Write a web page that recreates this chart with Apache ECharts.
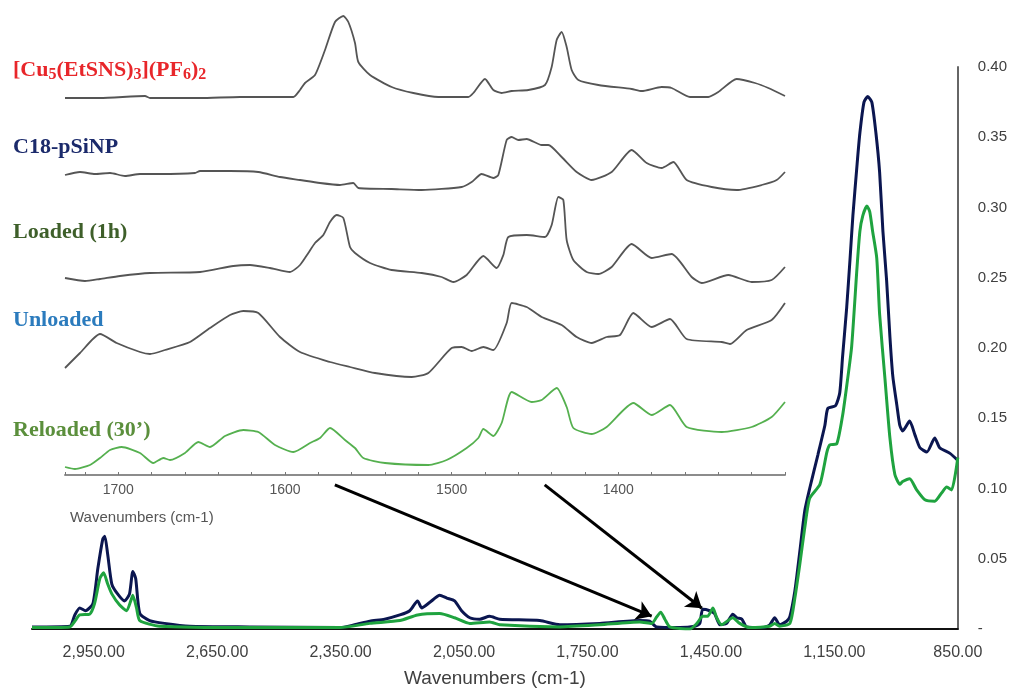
<!DOCTYPE html>
<html>
<head>
<meta charset="utf-8">
<title>FTIR spectra</title>
<script src="https://cdn.jsdelivr.net/npm/echarts@6/dist/echarts.min.js"></script>
<style>
html, body { margin: 0; padding: 0; background: #fff; }
#chart { width: 1010px; height: 693px; }
</style>
</head>
<body>
<div id="chart"></div>
<script>
// main spectrum, [wavenumber, absorbance]
const navyTrace = [
  [3100, 0.0015], [3008, 0.002], [2996, 0.01], [2984, 0.015], [2970, 0.013], [2952, 0.018],
  [2940, 0.043], [2928, 0.064], [2923, 0.066], [2916, 0.053], [2906, 0.032], [2892, 0.025],
  [2875, 0.020], [2863, 0.025], [2855, 0.041], [2848, 0.036], [2838, 0.011], [2814, 0.006],
  [2778, 0.004], [2717, 0.002], [2571, 0.0015], [2352, 0.001], [2316, 0.003], [2279, 0.0055],
  [2243, 0.007], [2206, 0.010], [2182, 0.013], [2163, 0.020], [2153, 0.015], [2133, 0.019],
  [2109, 0.024], [2092, 0.022], [2073, 0.020], [2056, 0.013], [2036, 0.008], [2012, 0.007],
  [1988, 0.009], [1963, 0.007], [1866, 0.006], [1817, 0.003], [1720, 0.004], [1623, 0.006],
  [1599, 0.0055], [1582, 0.0015], [1526, 0.001], [1489, 0.002], [1477, 0.004], [1470, 0.014],
  [1453, 0.013], [1441, 0.011], [1428, 0.003], [1412, 0.004], [1397, 0.0105], [1387, 0.008],
  [1375, 0.007], [1363, 0.0015], [1324, 0.001], [1307, 0.003], [1295, 0.008], [1283, 0.003],
  [1266, 0.0055], [1258, 0.009], [1246, 0.027], [1234, 0.055], [1222, 0.084], [1210, 0.10],
  [1190, 0.124], [1173, 0.145], [1166, 0.157], [1147, 0.159], [1137, 0.168], [1130, 0.194],
  [1120, 0.229], [1112, 0.263], [1105, 0.294], [1095, 0.33], [1088, 0.353], [1078, 0.375],
  [1069, 0.379], [1059, 0.375], [1049, 0.353], [1040, 0.325], [1032, 0.283], [1023, 0.248],
  [1015, 0.208], [1008, 0.18], [998, 0.159], [991, 0.145], [984, 0.141], [967, 0.148],
  [954, 0.138], [942, 0.129], [925, 0.126], [906, 0.136], [894, 0.129], [869, 0.125], [850, 0.120]
];
const greenTrace = [
  [3100, 0.001], [3008, 0.0015], [2996, 0.0055], [2984, 0.010], [2960, 0.0105], [2948, 0.018],
  [2935, 0.036], [2926, 0.040], [2916, 0.032], [2906, 0.025], [2887, 0.017], [2870, 0.013],
  [2860, 0.020], [2855, 0.024], [2846, 0.015], [2838, 0.006], [2790, 0.002], [2571, 0.001],
  [2352, 0.001], [2279, 0.004], [2206, 0.006], [2163, 0.010], [2109, 0.011], [2073, 0.008],
  [2036, 0.004], [1988, 0.005], [1963, 0.003], [1817, 0.0015], [1720, 0.003], [1623, 0.005],
  [1594, 0.004], [1582, 0.0085], [1572, 0.012], [1562, 0.007], [1550, 0.0015], [1501, 0],
  [1484, 0.004], [1470, 0.009], [1458, 0.009], [1445, 0.015], [1436, 0.008], [1424, 0.003],
  [1397, 0.008], [1380, 0.004], [1356, 0.001], [1307, 0.002], [1295, 0.004], [1283, 0.002],
  [1258, 0.004], [1246, 0.022], [1234, 0.046], [1222, 0.072], [1210, 0.093], [1185, 0.103],
  [1168, 0.126], [1161, 0.131], [1144, 0.132], [1130, 0.152], [1120, 0.173], [1108, 0.201],
  [1095, 0.257], [1088, 0.283], [1081, 0.294], [1071, 0.301], [1064, 0.297], [1057, 0.283],
  [1047, 0.264], [1040, 0.224], [1027, 0.178], [1015, 0.136], [1003, 0.110], [991, 0.103],
  [984, 0.105], [967, 0.107], [950, 0.099], [930, 0.092], [906, 0.091], [889, 0.097],
  [877, 0.101], [865, 0.099], [850, 0.122]
];

// inset spectra (stacked, arbitrary units incl. offset)
const cu5Trace = [
  [1732, 37.7], [1711, 37.7], [1684, 37.9], [1681, 37.7], [1651, 37.7], [1627, 37.8], [1595, 37.8],
  [1591, 38.5], [1588, 39.2], [1582, 40.0], [1576, 42.5], [1570, 45.3], [1565, 45.9], [1562, 45.3],
  [1558, 43.2], [1556, 41.3], [1549, 40.0], [1536, 38.8], [1523, 38.2], [1508, 37.8], [1490, 37.8],
  [1487, 38.2], [1480, 39.6], [1475, 38.5], [1470, 38.2], [1464, 38.4], [1454, 38.5], [1444, 39.0],
  [1440, 40.8], [1437, 43.5], [1434, 44.3], [1431, 42.8], [1428, 40.5], [1424, 39.5], [1412, 39.0],
  [1392, 38.6], [1386, 38.4], [1374, 38.8], [1368, 38.7], [1357, 37.8], [1346, 37.8], [1340, 38.3],
  [1329, 39.6], [1318, 39.2], [1310, 38.7], [1300, 37.9]
];
const c18Trace = [
  [1732, 30.0], [1723, 30.3], [1714, 30.1], [1705, 30.2], [1696, 29.9], [1687, 30.1], [1675, 30.1],
  [1654, 30.2], [1651, 30.4], [1633, 30.4], [1616, 30.3], [1603, 29.8], [1591, 29.5], [1579, 29.2],
  [1567, 29.0], [1559, 29.2], [1556, 28.7], [1536, 28.6], [1518, 28.5], [1494, 28.8], [1488, 29.3],
  [1482, 30.1], [1475, 29.7], [1472, 30.0], [1467, 33.5], [1464, 33.8], [1460, 33.5], [1455, 33.6],
  [1446, 33.0], [1442, 33.0], [1434, 31.8], [1425, 30.3], [1416, 29.5], [1404, 30.3], [1392, 32.5],
  [1383, 31.2], [1374, 30.7], [1367, 31.3], [1359, 29.5], [1344, 28.8], [1329, 28.5], [1314, 29.0],
  [1305, 29.5], [1300, 30.3]
];
const loadedTrace = [
  [1732, 19.7], [1720, 19.4], [1711, 19.6], [1699, 19.9], [1681, 20.2], [1651, 20.3], [1631, 20.9],
  [1621, 21.0], [1609, 20.7], [1597, 20.3], [1591, 21.0], [1586, 22.2], [1582, 23.2], [1577, 24.0],
  [1573, 25.3], [1569, 26.0], [1565, 25.7], [1561, 22.8], [1558, 22.2], [1549, 21.2], [1536, 20.5],
  [1518, 20.2], [1506, 19.8], [1499, 19.3], [1491, 20.0], [1481, 21.9], [1473, 20.7], [1469, 22.0],
  [1466, 23.8], [1455, 24.0], [1444, 23.8], [1440, 25.0], [1436, 27.8], [1433, 27.5], [1431, 23.5],
  [1427, 21.5], [1419, 20.3], [1412, 20.1], [1404, 20.8], [1392, 23.1], [1380, 21.7], [1368, 22.1],
  [1356, 19.8], [1350, 19.2], [1334, 20.0], [1320, 19.3], [1308, 19.5], [1300, 20.8]
];
const unloadedTrace = [
  [1732, 10.7], [1723, 12.2], [1711, 14.1], [1701, 13.2], [1687, 12.3], [1681, 12.1], [1672, 12.5],
  [1657, 13.3], [1645, 14.7], [1633, 16.0], [1625, 16.4], [1616, 16.2], [1603, 13.8], [1591, 12.3],
  [1573, 11.3], [1561, 10.8], [1546, 10.2], [1524, 9.8], [1514, 10.2], [1500, 12.7], [1494, 12.8],
  [1488, 12.4], [1481, 12.8], [1475, 12.5], [1467, 15.2], [1464, 17.2], [1455, 16.8], [1446, 15.8],
  [1434, 15.0], [1425, 13.8], [1416, 13.2], [1407, 13.8], [1399, 14.0], [1391, 16.2], [1380, 14.8],
  [1369, 15.6], [1359, 13.6], [1338, 13.3], [1333, 13.1], [1323, 14.5], [1308, 15.5], [1300, 17.2]
];
const reloadedTrace = [
  [1732, 0.8], [1726, 0.6], [1717, 1.0], [1711, 1.7], [1705, 2.5], [1698, 2.8], [1687, 2.2],
  [1679, 1.2], [1673, 1.7], [1669, 1.5], [1660, 2.2], [1652, 3.3], [1645, 2.8], [1636, 3.9],
  [1625, 4.5], [1616, 4.3], [1606, 3.0], [1595, 2.3], [1585, 3.2], [1579, 3.7], [1573, 4.7],
  [1564, 3.5], [1558, 2.7], [1553, 1.7], [1540, 1.2], [1514, 1.0], [1503, 1.5], [1491, 2.7],
  [1484, 3.7], [1481, 4.6], [1475, 3.9], [1470, 5.2], [1464, 8.3], [1452, 7.3], [1446, 7.5],
  [1437, 8.7], [1431, 6.8], [1427, 4.7], [1416, 4.1], [1407, 4.8], [1391, 7.2], [1380, 6.0],
  [1369, 7.0], [1359, 4.8], [1338, 4.3], [1320, 4.8], [1308, 5.8], [1300, 7.3]
];

// arrows: inset peak -> main spectrum peak, [wavenumber, absorbance]
const arrowFrom = [[2364, 0.1026], [1854, 0.1026]];
const arrowTo = [[1594, 0.0091], [1472, 0.0148]];

// trace labels (rich text for subscripts)
const traceLabels = [
  '{m|[Cu}{s|5}{m|(EtSNS)}{s|3}{m|](PF}{s|6}{m|)}{s|2}',
  '{m|C18-pSiNP}',
  '{m|Loaded (1h)}',
  '{m|Unloaded}',
  '{m|Reloaded (30\u2019)}'
];
const labelColors = ['#e8262a', '#1b2a6b', '#3e5f2a', '#2b7bbd', '#5b8f3c'];
const labelY = [70, 147, 232, 320, 430];

const chart = echarts.init(document.getElementById('chart'));

function fmtMain (v) {
  if ((v - 850) % 300 !== 0) return '';
  return v.toLocaleString('en-US', { minimumFractionDigits: 2, maximumFractionDigits: 2 });
}

const insetSeries = [cu5Trace, c18Trace, loadedTrace, unloadedTrace, reloadedTrace].map((d, i) => ({
  type: 'line',
  xAxisIndex: 1,
  yAxisIndex: 1,
  data: d,
  showSymbol: false,
  smooth: 0.2,
  silent: true,
  animation: false,
  lineStyle: { color: i === 4 ? '#55b04f' : '#555', width: 1.8 }
}));

const graphics = traceLabels.map((t, i) => ({
  type: 'text',
  x: 13,
  y: labelY[i],
  style: {
    text: t,
    verticalAlign: 'middle',
    rich: {
      m: { fontSize: 22, fontFamily: 'Liberation Serif', fontWeight: 'bold', fill: labelColors[i] },
      s: { fontSize: 16, fontFamily: 'Liberation Serif', fontWeight: 'bold', fill: labelColors[i], padding: [9, 0, 0, 0] }
    }
  }
}));
graphics.push({
  type: 'text',
  x: 70,
  y: 518,
  style: { text: 'Wavenumbers (cm-1)', verticalAlign: 'middle', fontSize: 15, fontFamily: 'Liberation Sans', fill: '#555' }
});

chart.setOption({
  backgroundColor: '#fff',
  animation: false,
  grid: [
    { left: 32, right: 52, top: 67, bottom: 57 },
    { left: 65, right: 225, top: 10, bottom: 218 }
  ],
  xAxis: [
    {
      type: 'value',
      gridIndex: 0,
      inverse: true,
      min: 850,
      max: 3100,
      interval: 300,
      name: 'Wavenumbers (cm-1)',
      nameLocation: 'middle',
      nameGap: 40,
      nameTextStyle: { fontSize: 19, fontFamily: 'Liberation Sans', color: '#404040' },
      axisLine: { lineStyle: { color: '#111', width: 2 } },
      axisTick: { show: false },
      splitLine: { show: false },
      axisLabel: { formatter: fmtMain, fontSize: 16, fontFamily: 'Liberation Sans', color: '#404040', margin: 16 }
    },
    {
      type: 'value',
      gridIndex: 1,
      inverse: true,
      min: 1300,
      max: 1732,
      interval: 20,
      axisLine: { lineStyle: { color: '#8c8c8c', width: 2 } },
      axisTick: { show: true, inside: true, length: 3, lineStyle: { color: '#777' } },
      splitLine: { show: false },
      axisLabel: {
        formatter: v => (v % 100 === 0 && v > 1300 && v < 1732) ? String(v) : '',
        fontSize: 14, fontFamily: 'Liberation Sans', color: '#555', margin: 8
      }
    }
  ],
  yAxis: [
    {
      type: 'value',
      gridIndex: 0,
      position: 'right',
      min: 0,
      max: 0.4,
      interval: 0.05,
      axisLine: { show: true, lineStyle: { color: '#666', width: 2 } },
      axisTick: { show: false },
      splitLine: { show: false },
      axisLabel: {
        formatter: v => v === 0 ? '-' : v.toFixed(2),
        fontSize: 15, fontFamily: 'Liberation Sans', color: '#404040', margin: 20
      }
    },
    {
      type: 'value',
      gridIndex: 1,
      min: 0,
      max: 46.5,
      show: false
    }
  ],
  series: [
    {
      type: 'line',
      data: navyTrace,
      showSymbol: false,
      smooth: 0.2,
      silent: true,
      lineStyle: { color: '#0b1650', width: 3 },
      markLine: {
        silent: true,
        symbol: ['none', 'arrow'],
        symbolSize: 15,
        label: { show: false },
        lineStyle: { color: '#000', width: 3, type: 'solid' },
        data: arrowFrom.map((p, i) => [{ coord: p }, { coord: arrowTo[i] }])
      }
    },
    {
      type: 'line',
      data: greenTrace,
      showSymbol: false,
      smooth: 0.2,
      silent: true,
      lineStyle: { color: '#1fa33f', width: 3 }
    }
  ].concat(insetSeries),
  graphic: graphics
});
</script>
</body>
</html>
